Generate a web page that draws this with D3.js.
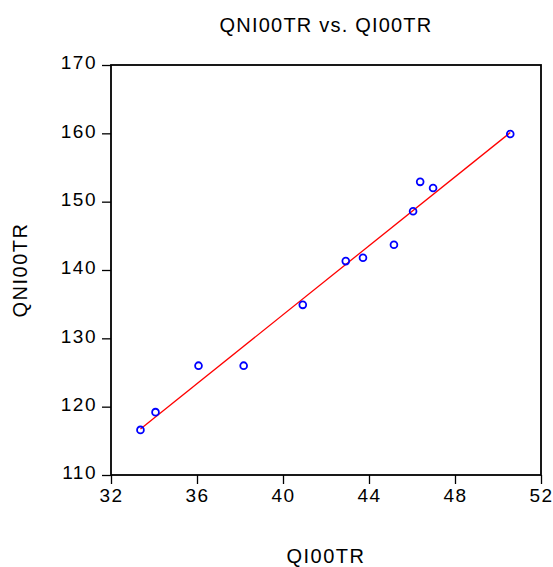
<!DOCTYPE html>
<html>
<head>
<meta charset="utf-8">
<script src="https://cdn.jsdelivr.net/npm/d3@7"></script>
<style>
  body { margin: 0; background: #fff; }
  text { font-family: "Liberation Sans", Arial, sans-serif; fill: #000; }
</style>
</head>
<body>
<svg id="chart" width="553" height="567"></svg>
<script>
// DATA
var qi00tr  = [33.37, 34.07, 36.07, 38.17, 40.92, 42.92, 43.72, 45.16, 46.05, 46.38, 46.98, 50.57];
var qni00tr = [116.6, 119.2, 126.0, 126.0, 134.9, 141.3, 141.8, 143.7, 148.6, 152.9, 152.0, 159.9];
var xTicks = [32, 36, 40, 44, 48, 52];
var yTicks = [110, 120, 130, 140, 150, 160, 170];

var margin = { top: 65, right: 12, bottom: 92, left: 111 };
var width = 553 - margin.left - margin.right;
var height = 567 - margin.top - margin.bottom;

const svg = d3.select("#chart");
const g = svg.append("g").attr("transform", "translate(" + margin.left + "," + margin.top + ")");

// SCALES
var x = d3.scaleLinear().domain([32, 52]).range([0, width]);
var y = d3.scaleLinear().domain([110, 170]).range([height, 0]);

// least squares fit
var mx = d3.mean(qi00tr), my = d3.mean(qni00tr);
var sxy = d3.sum(qi00tr, (v, i) => (v - mx) * (qni00tr[i] - my));
var sxx = d3.sum(qi00tr, v => (v - mx) * (v - mx));
var b = sxy / sxx, a = my - b * mx;
var xMin = d3.min(qi00tr), xMax = d3.max(qi00tr);

// frame
g.append("rect")
    .attr("width", width)
    .attr("height", height)
    .attr("fill", "none")
    .attr("stroke", "#000")
    .attr("stroke-width", 1.8);

// AXES
var xAxis = g.append("g")
    .attr("transform", "translate(0," + height + ")")
    .call(d3.axisBottom(x).tickValues(xTicks).tickSize(9).tickSizeOuter(0).tickPadding(5));
var yAxis = g.append("g")
    .call(d3.axisLeft(y).tickValues(yTicks).tickSize(9).tickSizeOuter(0).tickPadding(5));

[xAxis, yAxis].forEach(ax => {
    ax.select(".domain").remove();
    ax.selectAll("line").attr("stroke", "#000").attr("stroke-width", 1.3);
    ax.selectAll("text")
        .attr("font-size", 19)
        .attr("letter-spacing", 1.5)
        .attr("font-family", "Liberation Sans, Arial, sans-serif");
});
yAxis.selectAll("text").attr("dy", "0.2em");

// fit line
g.append("line")
    .attr("x1", x(xMin)).attr("y1", y(a + b * xMin))
    .attr("x2", x(xMax)).attr("y2", y(a + b * xMax))
    .attr("stroke", "#ff0000")
    .attr("stroke-width", 1.3);

// points
g.append("g")
    .selectAll("circle")
    .data(qi00tr)
    .join("circle")
    .attr("cx", d => x(d))
    .attr("cy", (d, i) => y(qni00tr[i]))
    .attr("r", 3.4)
    .attr("fill", "none")
    .attr("stroke", "#0000ff")
    .attr("stroke-width", 1.8);

// titles
svg.append("text")
    .attr("x", margin.left + width / 2)
    .attr("y", 32)
    .attr("text-anchor", "middle")
    .attr("font-size", 20)
    .attr("letter-spacing", 1.2)
    .text("QNI00TR vs. QI00TR");

svg.append("text")
    .attr("x", margin.left + width / 2)
    .attr("y", 563)
    .attr("text-anchor", "middle")
    .attr("font-size", 20)
    .attr("letter-spacing", 1.5)
    .text("QI00TR");

svg.append("text")
    .attr("transform", "translate(27," + (margin.top + height / 2) + ") rotate(-90)")
    .attr("text-anchor", "middle")
    .attr("font-size", 20)
    .attr("letter-spacing", 1.5)
    .text("QNI00TR");
</script>
</body>
</html>
